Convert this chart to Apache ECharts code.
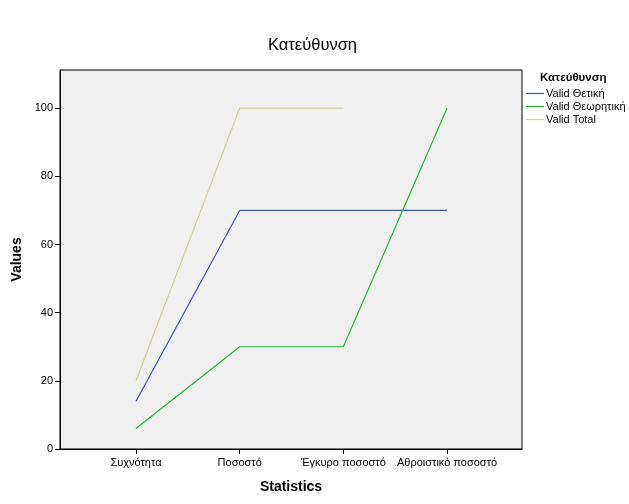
<!DOCTYPE html>
<html><head><meta charset="utf-8">
<script src="https://cdn.jsdelivr.net/npm/echarts@6/dist/echarts.min.js"></script>
<style>html,body{margin:0;padding:0;background:#fff}#c{width:629px;height:504px}</style>
</head><body><div id="c"></div>
<script>
const categories = ['Συχνότητα', 'Ποσοστό', 'Έγκυρο ποσοστό', 'Αθροιστικό ποσοστό'];
const seriesNames = ['Valid Θετική', 'Valid Θεωρητική', 'Valid Total'];
const thetiki = [14, 70, 70, 70];
const theoritiki = [6, 30, 30, 100];
const total = [20, 100, 100, null];
const yTicks = [0, 20, 40, 60, 80, 100];
const colors = ['#3d56a6', '#27b33d', '#d6d0a0'];
const FONT = 'Liberation Sans, Arial, sans-serif';

function pts(arr){ return arr.map((v,i)=> [i, v]); }
const idx = categories.map((c,i)=>i);

const chart = echarts.init(document.getElementById('c'));
chart.setOption({
  animation: false,
  textStyle: {fontFamily: FONT},
  title: [
    {text: 'Κατεύθυνση', left: 268, top: 37, padding: 0, textStyle: {fontSize: 16.5, fontWeight: 'normal', color: '#000', fontFamily: FONT}},
    {text: 'Κατεύθυνση', left: 540, top: 72, padding: 0, textStyle: {fontSize: 11.5, fontWeight: 'bold', color: '#000', fontFamily: FONT}}
  ],
  legend: {
    orient: 'vertical', left: 526, top: 88, itemGap: 2, itemWidth: 18, itemHeight: 10,
    padding: 0,
    textStyle: {fontSize: 11, lineHeight: 11, color: '#000', fontFamily: FONT, padding: [0,0,0,-3]},
    data: seriesNames.map((n,i)=>({name: n, icon: 'path://M0,4.5 L18,4.5 L18,5.7 L0,5.7 Z', itemStyle: {color: colors[i]}}))
  },
  grid: {left: 60, right: 107, top: 70, bottom: 55, show: true, backgroundColor: '#f0f0f0', borderColor: '#000', borderWidth: 1},
  xAxis: {
    type: 'value', min: -0.733, max: 3.723,
    name: 'Statistics', nameLocation: 'middle', nameGap: 31,
    nameTextStyle: {fontSize: 14, fontWeight: 'bold', color: '#000', fontFamily: FONT},
    axisLine: {show: true, onZero: false, lineStyle: {color: '#000'}},
    axisTick: {show: true, length: 5, customValues: idx, lineStyle: {color: '#000'}},
    axisLabel: {customValues: idx, formatter: v => categories[Math.round(v)] || '', color: '#000', fontSize: 11, margin: 8, fontFamily: FONT},
    splitLine: {show: false}
  },
  yAxis: {
    type: 'value', min: 0, max: 111.2,
    name: 'Values', nameLocation: 'middle', nameGap: 29, nameRotate: 90,
    nameTextStyle: {fontSize: 14, fontWeight: 'bold', color: '#000', fontFamily: FONT},
    axisLine: {show: true, onZero: false, lineStyle: {color: '#000'}},
    axisTick: {show: true, length: 5, customValues: yTicks, lineStyle: {color: '#000'}},
    axisLabel: {customValues: yTicks, color: '#000', fontSize: 11, margin: 7, fontFamily: FONT},
    splitLine: {show: false}
  },
  series: [
    {name: seriesNames[0], type: 'line', data: pts(thetiki), showSymbol: false, symbol: 'none', lineStyle: {width: 1.2, color: colors[0]}, itemStyle: {color: colors[0]}},
    {name: seriesNames[1], type: 'line', data: pts(theoritiki), showSymbol: false, symbol: 'none', lineStyle: {width: 1.2, color: colors[1]}, itemStyle: {color: colors[1]}},
    {name: seriesNames[2], type: 'line', data: pts(total), showSymbol: false, symbol: 'none', lineStyle: {width: 1.2, color: colors[2]}, itemStyle: {color: colors[2]}}
  ]
});
</script></body></html>
